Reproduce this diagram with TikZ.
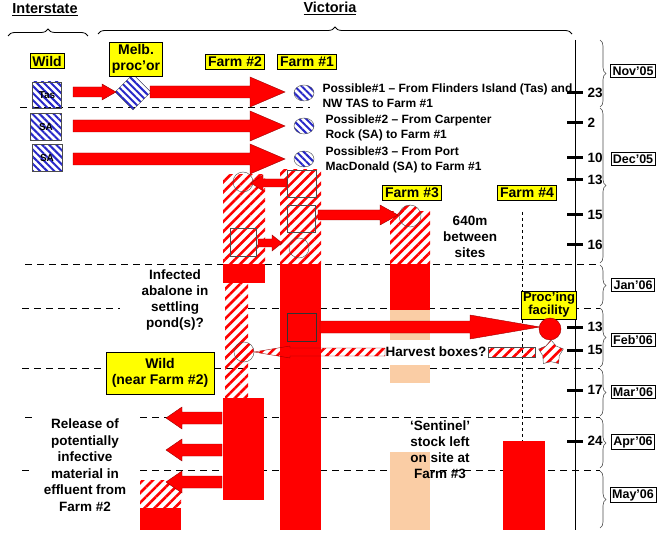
\documentclass[tikz,border=0pt]{standalone}
\usepackage{fontspec}
\setmainfont{Liberation Sans}
\usetikzlibrary{patterns.meta,decorations.pathreplacing,shapes.geometric,shapes.misc}
\definecolor{ybox}{RGB}{255,255,0}
\definecolor{peach}{RGB}{250,205,165}
\definecolor{hblue}{RGB}{40,40,200}
\newcommand{\blockarrow}[6]{\fill[red,draw=red!60!black,line width=0.4pt] ({#1},{#3-#4}) -- ({#2-(#6)},{#3-#4}) -- ({#2-(#6)},{#3-#5}) -- ({#2},{#3}) -- ({#2-(#6)},{#3+#5}) -- ({#2-(#6)},{#3+#4}) -- ({#1},{#3+#4}) -- cycle;}
\begin{document}
\begin{tikzpicture}[x=1pt,y=-1pt,font=\bfseries\fontsize{12}{15}\selectfont,
  ylab/.style={draw=black,fill=ybox,font=\bfseries\fontsize{14}{16}\selectfont,inner sep=2.5pt,align=center},
  mon/.style={draw=black,fill=white,font=\bfseries\fontsize{12.5}{14}\selectfont,inner sep=2pt},
  dl/.style={dashed,line width=1pt,dash pattern=on 7pt off 5pt},
  rh/.style={pattern={Lines[angle=45,distance=7pt,line width=2.6pt]},pattern color=red},
  bh/.style={draw=black!70,line width=0.4pt,pattern={Lines[angle=-45,distance=5pt,line width=2pt]},pattern color=hblue},
  sol/.style={fill=red},
  pe/.style={fill=peach},
  tick/.style={line width=3pt},
  tl/.style={anchor=west,font=\bfseries\fontsize{13.5}{15}\selectfont},
  brc/.style={decorate,decoration={brace,amplitude=6pt},line width=0.6pt,black!70}]
\useasboundingbox (0,0) rectangle (660,534);
% headings
\node (inter) at (45,10) {\fontsize{14.5}{16}\selectfont\underline{Interstate}};
\node (vic) at (330,8) {\fontsize{14.5}{16}\selectfont\underline{Victoria}};
\draw[decorate,decoration={brace,amplitude=7pt},line width=0.8pt] (8,36) -- (88,36);
\draw[decorate,decoration={brace,amplitude=7pt},line width=0.8pt] (98,34) -- (572,34);
% dashed lines
\draw[dl] (20,108) -- (310,108);
\draw[dl] (25,264) -- (600,264);
\draw[dl] (22,308) -- (120,308);
\draw[dl] (248,308) -- (600,308);
\draw[dl] (22,368) -- (600,368);
\draw[dl] (25,417) -- (32,417);
\draw[dl] (140,417) -- (600,417);
\draw[dl] (22,470) -- (32,470);
\draw[dl] (140,470) -- (600,470);
% Farm #4 dashed vertical
\draw[dashed,line width=0.8pt] (522,212) -- (522,441);
% timeline
\draw[line width=0.8pt] (575,40) -- (575,530);
\foreach \yy/\lab in {93/23,123/2,158/10,180/13,215/15,245/16,327/13,350/15,390/17,441/24}{
  \draw[tick] (567,\yy) -- (583,\yy);
  \node[tl] at (584,\yy) {\lab};}
% month braces
\draw[brc] (600,40) -- (600,107);
\draw[brc] (600,108) -- (600,263);
\draw[brc] (600,265) -- (600,306);
\draw[brc] (600,308) -- (600,367);
\draw[brc] (600,369) -- (600,416);
\draw[brc] (600,418) -- (600,468);
\draw[brc] (600,471) -- (600,528);
\node[mon] (nov) at (633,71) {Nov'05};
\node[mon] (dec) at (633,159) {Dec'05};
\node[mon] (jan) at (633,285) {Jan'06};
\node[mon] (feb) at (633,340) {Feb'06};
\node[mon] (mar) at (633,392) {Mar'06};
\node[mon] (apr) at (633,442) {Apr'06};
\node[mon] (may) at (633,495) {May'06};
% Farm #2 column
\path[rh] (223,175) rectangle (265,264);
\fill[sol] (223,264) rectangle (265,283);
\path[rh] (225,283) rectangle (248,398);
\fill[sol] (223,398) rectangle (264,500);
\path[rh] (140,480) rectangle (181,508);
\fill[sol] (140,508) rectangle (181,530);
% Farm #1 column
\path[rh] (280,170) rectangle (321,264);
\fill[sol] (280,264) rectangle (321,530);
% Farm #3 column
\path[rh] (390,212) rectangle (430,264);
\fill[sol] (390,264) rectangle (430,310);
\fill[pe] (390,310) rectangle (430,340);
\fill[pe] (390,365) rectangle (430,383);
\fill[pe] (390,452) rectangle (430,530);
% Farm #4 bar
\fill[sol] (503,441) rectangle (545,530);
% shapes in columns
\draw[black!70] (243,182) circle (10);
\draw[black!70] (230,228) rectangle (256,256);
\draw[black!70] (287,170) rectangle (316,197);
\draw[black!70] (287,205) rectangle (315,232);
\draw[black!70] (299,248) circle (10);
\draw[black!70,rh] (410,216) circle (11);
\draw[black!80,line width=0.8pt] (287,313) rectangle (316,341);
% arrows within columns
\blockarrow{287}{251}{183}{4}{8}{-12}
\blockarrow{258}{282}{243}{4}{8}{10}
\blockarrow{318}{398}{215}{5}{10}{18}
\blockarrow{320}{540}{327}{6}{12}{70}
\blockarrow{222}{166}{418}{6}{11}{-16}
\blockarrow{222}{166}{450}{6}{11}{-16}
\blockarrow{222}{166}{482}{6}{11}{-16}
% hatched arrow (harvest boxes) to Wild near Farm 2
\path[rh,draw=red!60!black,line width=0.4pt] (385,348) -- (290,348) -- (290,346) -- (254,352) -- (290,358) -- (290,356) -- (385,356) -- cycle;
\draw[black!70,rh] (244,352) circle (10);
\path[rh,draw=black!70] (488,347) rectangle (535,357);
\node[star,star points=5,draw=black!70,rh,minimum size=26pt,inner sep=0pt] (star) at (551,353) {};
% top source shapes
\node[bh,minimum width=29pt,minimum height=26pt,inner sep=0pt,font=\bfseries\fontsize{10}{11}\selectfont] (tas) at (47,95) {Tas};
\node[bh,minimum width=31pt,minimum height=27pt,inner sep=0pt,font=\bfseries\fontsize{10}{11}\selectfont] (sa1) at (46,127) {SA};
\node[bh,minimum width=30pt,minimum height=27pt,inner sep=0pt,font=\bfseries\fontsize{10}{11}\selectfont] (sa2) at (47,158) {SA};
\node[bh,diamond,minimum width=36pt,minimum height=36pt,inner sep=0pt] (dia) at (133,92) {};
\blockarrow{73}{116}{92}{5}{8}{14}
\blockarrow{150}{285}{92}{6}{15}{35}
\blockarrow{73}{285}{126}{6}{15}{35}
\blockarrow{73}{285}{159}{6}{15}{35}
\draw[bh] (304,93) circle (10 and 8);
\draw[bh] (304,126) circle (10 and 8);
\draw[bh] (304,159) circle (10 and 8);
% labels
\node[ylab] (wild) at (47,61) {Wild};
\node[ylab] (melb) at (136,59) {Melb.\\proc'or};
\node[ylab] (f2) at (235,62) {Farm \#2};
\node[ylab] (f1) at (307,62) {Farm \#1};
\node[ylab] (f3) at (412,193) {Farm \#3};
\node[ylab] (f4) at (527,193) {Farm \#4};
\node[ylab,font=\bfseries\fontsize{13}{13}\selectfont,inner sep=1.5pt] (proc) at (549,305) {Proc'ing\\facility};
\node[ylab,minimum width=108pt,minimum height=42pt] (wild2) at (160,373) {Wild\\(near Farm \#2)};
\fill[red,draw=red!60!black] (550,329) circle (11);
% texts
\node[anchor=west,align=left] (p1) at (319,96) {Possible\#1 – From Flinders Island (Tas) and\\NW TAS to Farm \#1};
\node[anchor=west,align=left] (p2) at (322,128) {Possible\#2 – From Carpenter\\Rock (SA) to Farm \#1};
\node[anchor=west,align=left] (p3) at (322,160) {Possible\#3 – From Port\\MacDonald (SA) to Farm \#1};
\node[align=center,font=\bfseries\fontsize{13.5}{16}\selectfont] (d640) at (470,237) {640m\\between\\sites};
\node[align=center,font=\bfseries\fontsize{13.5}{16}\selectfont] (inf) at (175,300) {Infected\\abalone in\\settling\\pond(s)?};
\node[font=\bfseries\fontsize{13.5}{15}\selectfont] (hb) at (436,352) {Harvest boxes?};
\node[align=center,font=\bfseries\fontsize{13.5}{16}\selectfont] (sent) at (440,450) {`Sentinel'\\stock left\\on site at\\Farm \#3};
\node[align=center,font=\bfseries\fontsize{13.5}{16.5}\selectfont] (rel) at (85,465) {Release of\\potentially\\infective\\material in\\effluent from\\Farm \#2};
\end{tikzpicture}
\end{document}
